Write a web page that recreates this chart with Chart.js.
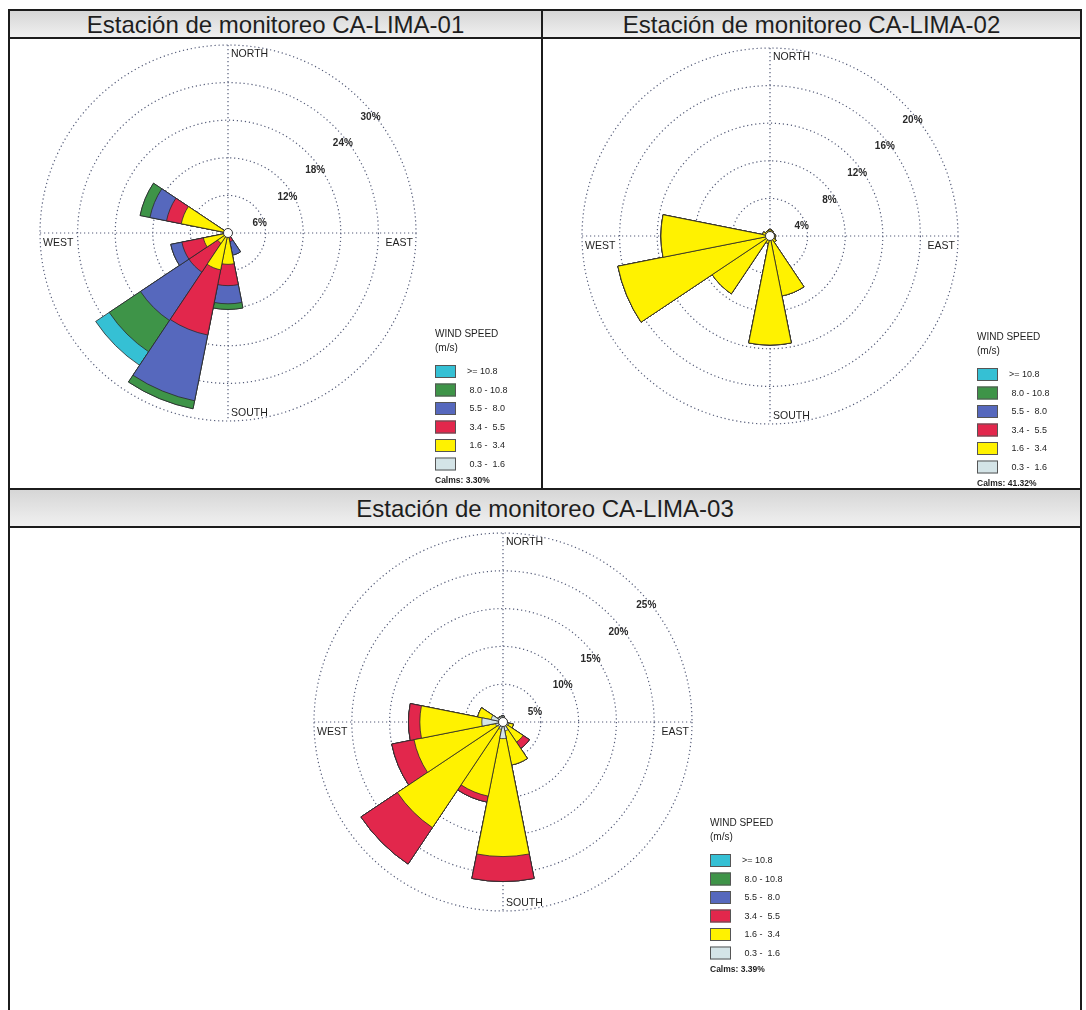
<!DOCTYPE html>
<html>
<head>
<meta charset="utf-8">
<script src="https://cdn.jsdelivr.net/npm/chart.js@4.4.1/dist/chart.umd.min.js"></script>
<style>
  body { margin: 0; width: 1086px; height: 1010px; overflow: hidden; background: #fff; position: relative;
         font-family: Arial, "Liberation Sans", sans-serif; }
  .box { position: absolute; border: 2px solid #1c1c1c; box-sizing: border-box; }
  .rule { position: absolute; background: #1c1c1c; }
  .title { position: absolute; box-sizing: border-box; border-bottom: 2px solid #1c1c1c;
           background: linear-gradient(#d6d6d6, #f0f0f0); text-align: center; font-size: 24px; color: #1e1e1e; }
  canvas { position: absolute; }
</style>
</head>
<body>
<div class="box" style="left:8px;top:9px;width:1074px;height:481px"></div>
<div class="rule" style="left:541px;top:9px;width:2px;height:481px"></div>
<div class="title" id="t1" style="left:10px;top:11px;width:531px;height:28px;line-height:27px"></div>
<div class="title" id="t2" style="left:543px;top:11px;width:537px;height:28px;line-height:27px"></div>
<div class="box" style="left:8px;top:488px;width:1074px;height:540px"></div>
<div class="title" id="t3" style="left:10px;top:490px;width:1070px;height:38px;line-height:38px"></div>

<canvas id="c1" width="530" height="448" style="left:10px;top:40px"></canvas>
<canvas id="c2" width="535" height="448" style="left:544px;top:40px"></canvas>
<canvas id="c3" width="1069" height="480" style="left:10px;top:529px"></canvas>

<script>
const stations = ['Estación de monitoreo CA-LIMA-01', 'Estación de monitoreo CA-LIMA-02', 'Estación de monitoreo CA-LIMA-03'];
const directions = ['N', 'NNE', 'NE', 'ENE', 'E', 'ESE', 'SE', 'SSE', 'S', 'SSW', 'SW', 'WSW', 'W', 'WNW', 'NW', 'NNW'];
const speedBins = [' 0.3 -  1.6', ' 1.6 -  3.4', ' 3.4 -  5.5', ' 5.5 -  8.0', ' 8.0 - 10.8', '>= 10.8'];
const binColors = ['#d4e4e7', '#fff200', '#e2274c', '#5668bd', '#3e9448', '#35c0d4'];
const calms = ['3.30%', '41.32%', '3.39%'];

// frequency (%) by direction N..NNW, one array per speed bin
const lima01_b0 = [0, 0, 0, 0, 0, 0, 0, 0, 0, 0, 0, 0, 0, 0, 0, 0];
const lima01_b1 = [0, 0, 0, 0, 0, 0, 0, 0.4, 5.0, 6.0, 2.0, 4.0, 0, 7.6, 0, 0];
const lima01_b2 = [0, 0, 0, 0, 0, 0, 0, 1.0, 3.4, 10.6, 5.5, 3.5, 0, 2.4, 0, 0];
const lima01_b3 = [0, 0, 0, 0, 0, 0, 0, 2.2, 2.9, 10.7, 9.3, 1.8, 0, 2.7, 0, 0];
const lima01_b4 = [0, 0, 0, 0, 0, 0, 0, 0, 0.9, 1.3, 6.0, 0, 0, 1.6, 0, 0];
const lima01_b5 = [0, 0, 0, 0, 0, 0, 0, 0, 0, 0, 2.6, 0, 0, 0, 0, 0];

const lima02_b0 = [0, 0, 0, 0, 0, 0, 0, 0, 0, 0, 0, 0, 0, 0, 0, 0];
const lima02_b1 = [0.7, 0.6, 0.5, 0.5, 0.6, 0.6, 0.8, 6.5, 11.6, 0.8, 7.4, 16.5, 11.6, 0.8, 0.6, 0.6];
const lima02_b2 = [0, 0, 0, 0, 0, 0, 0, 0, 0, 0, 0, 0, 0, 0, 0, 0];
const lima02_b3 = [0, 0, 0, 0, 0, 0, 0, 0, 0, 0, 0, 0, 0, 0, 0, 0];
const lima02_b4 = [0, 0, 0, 0, 0, 0, 0, 0, 0, 0, 0, 0, 0, 0, 0, 0];
const lima02_b5 = [0, 0, 0, 0, 0, 0, 0, 0, 0, 0, 0, 0, 0, 0, 0, 0];

const lima03_b0 = [0.8, 0.5, 0.5, 0.5, 0.6, 0.8, 0.6, 1.2, 2.2, 1.0, 0.8, 1.0, 2.8, 1.6, 0.8, 0.8];
const lima03_b1 = [0, 0, 0, 0, 0, 0.6, 2.6, 4.6, 15.6, 9.0, 16.0, 11.0, 8.2, 1.8, 0, 0];
const lima03_b2 = [0, 0, 0, 0, 0, 0, 1.0, 0, 3.3, 0.8, 5.8, 3.0, 1.5, 0, 0, 0];
const lima03_b3 = [0, 0, 0, 0, 0, 0, 0, 0, 0, 0, 0, 0, 0, 0, 0, 0];
const lima03_b4 = [0, 0, 0, 0, 0, 0, 0, 0, 0, 0, 0, 0, 0, 0, 0, 0];
const lima03_b5 = [0, 0, 0, 0, 0, 0, 0, 0, 0, 0, 0, 0, 0, 0, 0, 0];

const ringMax = [30, 20, 25];
const ringStep = [6, 4, 5];

const gridColor = '#545b78';
const textColor = '#1e1e1e';

// crosshair, centre circle, compass + ring labels and the speed legend
const roseDecor = {
  id: 'roseDecor',
  beforeDatasetsDraw(chart) {
    const r = chart.scales.r, ctx = chart.ctx;
    const R = r.getDistanceFromCenterForValue(r.max);
    ctx.save();
    ctx.strokeStyle = gridColor;
    ctx.lineWidth = 1.2;
    ctx.setLineDash([1.2, 2.8]);
    ctx.beginPath();
    ctx.moveTo(r.xCenter, r.yCenter - R); ctx.lineTo(r.xCenter, r.yCenter + R);
    ctx.moveTo(r.xCenter - R, r.yCenter); ctx.lineTo(r.xCenter + R, r.yCenter);
    ctx.stroke();
    ctx.restore();
  },
  afterDatasetsDraw(chart, args, opts) {
    const r = chart.scales.r, ctx = chart.ctx;
    const cx = r.xCenter, cy = r.yCenter;
    const R = r.getDistanceFromCenterForValue(r.max);
    ctx.save();
    // calm circle
    ctx.beginPath();
    ctx.arc(cx, cy, 4.5, 0, Math.PI * 2);
    ctx.fillStyle = '#fff'; ctx.fill();
    ctx.lineWidth = 1; ctx.strokeStyle = '#333'; ctx.stroke();

    ctx.fillStyle = textColor;
    ctx.textBaseline = 'middle';
    ctx.font = '10.5px Arial, "Liberation Sans"';
    ctx.textAlign = 'left';
    ctx.fillText('NORTH', cx + 3, cy - R + 9);
    ctx.fillText('SOUTH', cx + 3, cy + R - 8);
    ctx.fillText('WEST', cx - R + 3, cy + 10);
    ctx.textAlign = 'right';
    ctx.fillText('EAST', cx + R - 3, cy + 10);

    // ring labels along the NE diagonal
    ctx.textAlign = 'center';
    ctx.font = 'bold 10px Arial, "Liberation Sans"';
    ctx.fillStyle = '#2a2a2a';
    r.ticks.forEach(t => {
      if (t.value <= 0) return;
      const d = r.getDistanceFromCenterForValue(t.value);
      ctx.fillText(t.value + '%', cx + 0.707 * d + 4 + 0.03 * d, cy - 0.707 * d + 17);
    });

    // legend
    const lx = cx + 207;
    ctx.textAlign = 'left';
    ctx.fillStyle = textColor;
    ctx.font = '10px Arial, "Liberation Sans"';
    ctx.fillText('WIND SPEED', lx, cy + 101);
    ctx.fillText('(m/s)', lx, cy + 115);
    for (let k = 0; k < speedBins.length; k++) {
      const idx = speedBins.length - 1 - k;
      const by = cy + 132 + k * 18.5;
      ctx.fillStyle = binColors[idx];
      ctx.fillRect(lx, by, 21, 13);
      ctx.strokeStyle = '#555';
      ctx.strokeRect(lx + 0.5, by + 0.5, 20, 12);
      ctx.fillStyle = textColor;
      ctx.font = '9px Arial, "Liberation Sans"';
      ctx.fillText(speedBins[idx], lx + 32, by + 7);
    }
    ctx.font = 'bold 8.5px Arial, "Liberation Sans"';
    ctx.fillText('Calms: ' + opts.calms, lx, cy + 248);
    ctx.restore();
  }
};

function makeRose(id, bins, max, step, pad, calmText) {
  // stack the speed bins: each ring of a petal is drawn out to its running total
  const datasets = [];
  let run = directions.map(() => 0);
  bins.forEach((vals, k) => {
    run = run.map((v, i) => +(v + vals[i]).toFixed(2));
    datasets.push({
      label: speedBins[k],
      data: run.slice(),
      backgroundColor: binColors[k],
      borderColor: '#2a2a2a',
      borderWidth: 0.8
    });
  });

  new Chart(document.getElementById(id), {
    type: 'polarArea',
    data: { labels: directions, datasets: datasets },
    options: {
      responsive: false,
      animation: false,
      layout: { padding: pad },
      plugins: {
        legend: { display: false },
        tooltip: { enabled: false },
        roseDecor: { calms: calmText }
      },
      scales: {
        r: {
          min: 0,
          max: max,
          startAngle: -11.25,
          ticks: { display: false, stepSize: step },
          grid: { color: gridColor, lineWidth: 1.2 },
          border: { dash: [1.2, 2.8] },
          angleLines: { display: false },
          pointLabels: { display: false }
        }
      }
    },
    plugins: [roseDecor]
  });
}

document.getElementById('t1').textContent = stations[0];
document.getElementById('t2').textContent = stations[1];
document.getElementById('t3').textContent = stations[2];

makeRose('c1', [lima01_b0, lima01_b1, lima01_b2, lima01_b3, lima01_b4, lima01_b5],
  ringMax[0], ringStep[0], { left: 30, top: 5, right: 124, bottom: 67 }, calms[0]);
makeRose('c2', [lima02_b0, lima02_b1, lima02_b2, lima02_b3, lima02_b4, lima02_b5],
  ringMax[1], ringStep[1], { left: 38, top: 8, right: 121, bottom: 64 }, calms[1]);
makeRose('c3', [lima03_b0, lima03_b1, lima03_b2, lima03_b3, lima03_b4, lima03_b5],
  ringMax[2], ringStep[2], { left: 304, top: 4, right: 387, bottom: 98 }, calms[2]);
</script>
</body>
</html>
